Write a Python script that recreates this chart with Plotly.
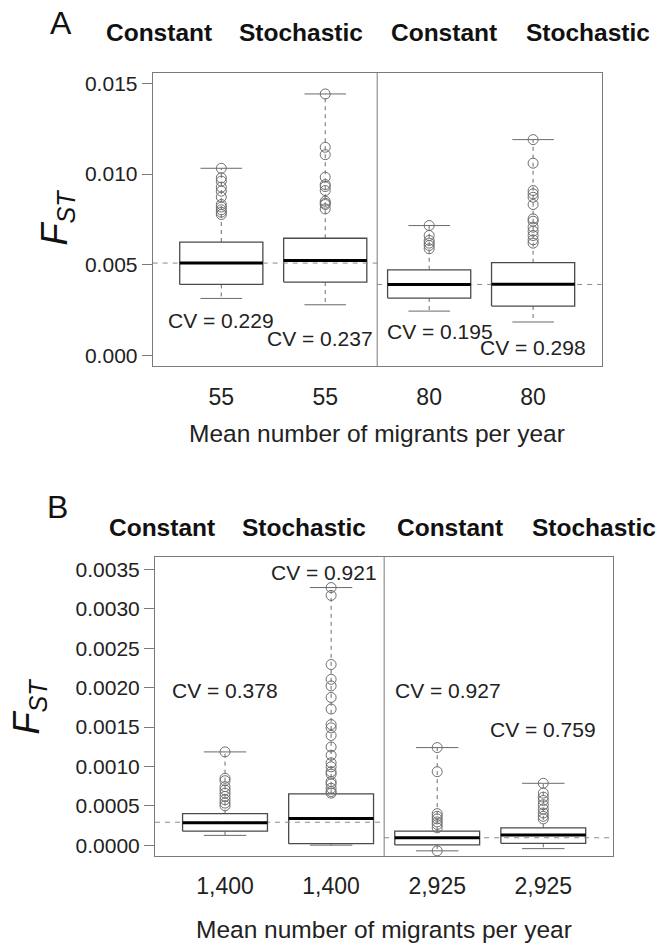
import plotly.graph_objects as go

# ---------------- data ----------------
groups = ["Constant", "Stochastic", "Constant", "Stochastic"]

# Panel A
a_ticks = ["55", "55", "80", "80"]
a_q1 = [0.00391, 0.00404, 0.00316, 0.00272]
a_med = [0.00509, 0.00523, 0.00391, 0.00392]
a_q3 = [0.00625, 0.00646, 0.00472, 0.00511]
a_low = [0.00314, 0.00279, 0.00244, 0.00184]
a_high = [0.01032, 0.01442, 0.00716, 0.01190]
a_out = [
    [0.01032, 0.00979, 0.00961, 0.00928, 0.00906, 0.00873, 0.00832, 0.00818, 0.00803, 0.00790, 0.00777],
    [0.01442, 0.01148, 0.01107, 0.00983, 0.00942, 0.00931, 0.00909, 0.00850, 0.00839, 0.00832, 0.00808],
    [0.00716, 0.00661, 0.00634, 0.00619, 0.00606, 0.00588],
    [0.01190, 0.01060, 0.00909, 0.00891, 0.00872, 0.00832, 0.00753, 0.00740, 0.00707,
     0.00685, 0.00661, 0.00637, 0.00619],
]
a_ref = [0.00509, 0.00391]
a_cv = ["CV = 0.229", "CV = 0.237", "CV = 0.195", "CV = 0.298"]
a_cv_x = [1.0, 1.95, 3.1, 4.0]
a_cv_y = [0.00193, 0.00092, 0.00134, 0.00042]

# Panel B
b_ticks = ["1,400", "1,400", "2,925", "2,925"]
b_q1 = [0.000180, 0.000021, 0.000005, 0.000025]
b_med = [0.000285, 0.000339, 0.000096, 0.000130]
b_q3 = [0.000402, 0.000653, 0.000180, 0.000222]
b_low = [0.000126, 0.000002, -0.000070, -0.000042]
b_high = [0.001185, 0.003270, 0.001240, 0.000787]
b_out = [
    [0.001185, 0.000850, 0.000820, 0.000745, 0.000703, 0.000662, 0.000620, 0.000578, 0.000536, 0.000502],
    [0.003270, 0.003170, 0.002294, 0.002106, 0.002022, 0.001876, 0.001729, 0.001532, 0.001490,
     0.001394, 0.001248, 0.001143, 0.001047, 0.000996, 0.000934, 0.000904, 0.000808, 0.000779,
     0.000724, 0.000682, 0.000662],
    [0.001240, 0.000934, 0.000402, 0.000368, 0.000335, 0.000297, 0.000264, 0.000222, -0.000070],
    [0.000787, 0.000662, 0.000611, 0.000569, 0.000515, 0.000460, 0.000410, 0.000368, 0.000335],
]
b_ref = [0.000293, 0.000096]
b_cv = ["CV = 0.378", "CV = 0.921", "CV = 0.927", "CV = 0.759"]
b_cv_x = [1.0, 1.93, 3.1, 4.0]
b_cv_y = [0.001968, 0.003467, 0.001968, 0.001466]

# ---------------- styling ----------------
W, H = 665, 944
FONT = "Liberation Sans, Arial, Helvetica, sans-serif"
positions = [1, 2, 3, 4]
XLIM = [0.34, 4.66]
DIV = 2.5
HW = 0.4      # box half width
CW = 0.2      # cap half width
BOXC = "#4a4a4a"
FRAMEC = "#7a7a7a"
WHC = "#6a6a6a"
PTC = "#6e6e6e"


def px_x(p):
    return p / W


def px_y(p):
    return 1 - p / H


fig = go.Figure()


def add_panel(xa, ya, q1, med, q3, low, high, outs, refs):
    mx, my, wx, wy, cx, cy, ox, oy = [], [], [], [], [], [], [], []
    for p, a, m, b, lo, hi, o in zip(positions, q1, med, q3, low, high, outs):
        wx += [p, p, None, p, p, None]
        wy += [b, hi, None, a, lo, None]
        cx += [p - CW, p + CW, None, p - CW, p + CW, None]
        cy += [hi, hi, None, lo, lo, None]
        ox += [p] * len(o)
        oy += list(o)
    fig.add_trace(go.Scatter(x=wx, y=wy, mode="lines", xaxis=xa, yaxis=ya,
                             line=dict(color=WHC, width=1, dash="4px,4px"),
                             hoverinfo="skip", showlegend=False))
    fig.add_trace(go.Scatter(x=cx, y=cy, mode="lines", xaxis=xa, yaxis=ya,
                             line=dict(color=WHC, width=1),
                             hoverinfo="skip", showlegend=False))
    for p, a, m, b in zip(positions, q1, med, q3):
        fig.add_trace(go.Scatter(x=[p - HW, p + HW, p + HW, p - HW, p - HW],
                                 y=[a, a, b, b, a], mode="lines", fill="toself",
                                 fillcolor="white", xaxis=xa, yaxis=ya,
                                 line=dict(color=BOXC, width=1.3),
                                 hoverinfo="skip", showlegend=False))
    fig.add_trace(go.Scatter(x=[XLIM[0], DIV, None, DIV, XLIM[1]],
                             y=[refs[0], refs[0], None, refs[1], refs[1]],
                             mode="lines", xaxis=xa, yaxis=ya,
                             line=dict(color="#8a8a8a", width=1, dash="5px,5px"),
                             hoverinfo="skip", showlegend=False))
    for p, m in zip(positions, med):
        mx += [p - HW, p + HW, None]
        my += [m, m, None]
    fig.add_trace(go.Scatter(x=mx, y=my, mode="lines", xaxis=xa, yaxis=ya,
                             line=dict(color="black", width=3),
                             hoverinfo="skip", showlegend=False))
    fig.add_trace(go.Scatter(x=ox, y=oy, mode="markers", xaxis=xa, yaxis=ya,
                             marker=dict(symbol="circle-open", size=10, color=PTC,
                                         line=dict(width=1, color=PTC)),
                             hoverinfo="skip", showlegend=False))


add_panel("x", "y", a_q1, a_med, a_q3, a_low, a_high, a_out, a_ref)
add_panel("x2", "y2", b_q1, b_med, b_q3, b_low, b_high, b_out, b_ref)

# panel frames (pixels)
A_L, A_R, A_T, A_B = 152.7, 601.7, 71.7, 366.0
B_L, B_R, B_T, B_B = 155.0, 613.3, 557.0, 856.7

xcommon = dict(range=XLIM, tickvals=positions, showgrid=False, zeroline=False,
               showline=True, mirror=True, linecolor=FRAMEC, linewidth=1,
               ticks="outside", ticklen=10, tickcolor="rgba(0,0,0,0)",
               tickfont=dict(family=FONT, size=23, color="#222"))
ycommon = dict(showgrid=False, zeroline=False, showline=True, mirror=True,
               linecolor=FRAMEC, linewidth=1, ticks="outside", ticklen=10,
               tickcolor=FRAMEC, tickfont=dict(family=FONT, size=21, color="#222"))

fig.update_layout(
    width=W, height=H, autosize=False,
    margin=dict(l=0, r=0, t=0, b=0),
    paper_bgcolor="white", plot_bgcolor="white",
    showlegend=False,
    xaxis=dict(domain=[px_x(A_L), px_x(A_R)], anchor="y", ticktext=a_ticks, **xcommon),
    yaxis=dict(domain=[px_y(A_B), px_y(A_T)], anchor="x", range=[-0.0006, 0.0156],
               tickvals=[0.0, 0.005, 0.010, 0.015], tickformat=".3f", **ycommon),
    xaxis2=dict(domain=[px_x(B_L), px_x(B_R)], anchor="y2", ticktext=b_ticks, **xcommon),
    yaxis2=dict(domain=[px_y(B_B), px_y(B_T)], anchor="x2", range=[-0.000134, 0.00366],
                tickvals=[i * 0.0005 for i in range(8)], tickformat=".4f", **ycommon),
)

for xr, yr in [("x", "y domain"), ("x2", "y2 domain")]:
    fig.add_shape(type="line", xref=xr, yref=yr, x0=DIV, x1=DIV, y0=0, y1=1,
                  line=dict(color=FRAMEC, width=1))

ann = []
C = dict(xanchor="center", yanchor="middle", showarrow=False)
for t, xv, yv in zip(a_cv, a_cv_x, a_cv_y):
    ann.append(dict(text=t, x=xv, y=yv, xref="x", yref="y",
                    font=dict(family=FONT, size=21, color="#222"), **C))
for t, xv, yv in zip(b_cv, b_cv_x, b_cv_y):
    ann.append(dict(text=t, x=xv, y=yv, xref="x2", yref="y2",
                    font=dict(family=FONT, size=21, color="#222"), **C))

hdr_x_A = [158.5, 301, 443.5, 588]
hdr_x_B = [161.5, 304, 449.5, 593.5]
for g, xp in zip(groups, hdr_x_A):
    ann.append(dict(text="<b>%s</b>" % g, x=px_x(xp), y=px_y(32), xref="paper", yref="paper",
                    font=dict(family=FONT, size=24.5, color="#111"), **C))
for g, xp in zip(groups, hdr_x_B):
    ann.append(dict(text="<b>%s</b>" % g, x=px_x(xp), y=px_y(528), xref="paper", yref="paper",
                    font=dict(family=FONT, size=24.5, color="#111"), **C))

ann.append(dict(text="A", x=px_x(61), y=px_y(22), xref="paper", yref="paper",
                font=dict(family=FONT, size=32, color="#111"), **C))
ann.append(dict(text="B", x=px_x(57), y=px_y(507), xref="paper", yref="paper",
                font=dict(family=FONT, size=32, color="#111"), **C))

for xp, yp in [(57, 217), (29, 707)]:
    ann.append(dict(text="<i>F<sub>ST</sub></i>", x=px_x(xp), y=px_y(yp), xref="paper",
                    yref="paper", textangle=-90,
                    font=dict(family=FONT, size=36, color="#111"), **C))

for xp, yp in [((A_L + A_R) / 2, 433), ((B_L + B_R) / 2, 930)]:
    ann.append(dict(text="Mean number of migrants per year", x=px_x(xp), y=px_y(yp),
                    xref="paper", yref="paper",
                    font=dict(family=FONT, size=24.5, color="#222"), **C))

fig.update_layout(annotations=ann)
fig.write_html("out.html", config={"displayModeBar": False},
               post_script="document.body.style.margin='0px';")
